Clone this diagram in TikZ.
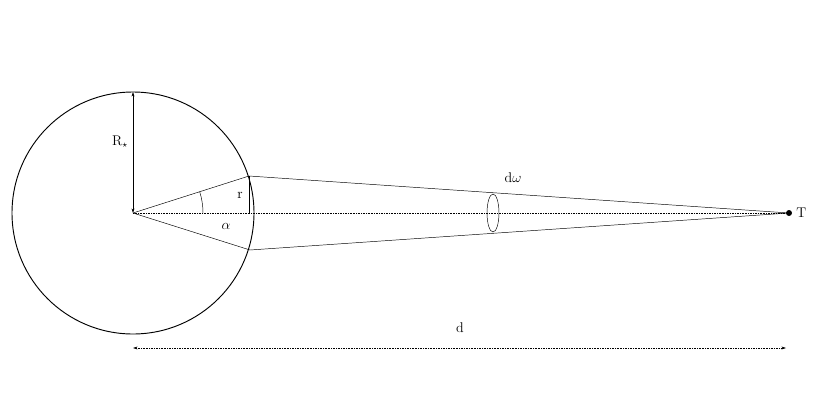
\documentclass[tikz,border=0pt]{standalone}
\usepackage{amssymb}
\usetikzlibrary{arrows.meta}
\tikzset{
  guide/.style={densely dotted, thin},
  dimline/.style={thin, {Stealth[length=4pt,width=2.5pt]}-{Stealth[length=4pt,width=2.5pt]}}
}
\begin{document}
\begin{tikzpicture}[x=0.03cm, y=-0.03cm, font=\large]
  \useasboundingbox (0, 0) rectangle (830, 415);
  % star and target
  \coordinate (O) at (133, 213);
  \coordinate (top) at (133, 92);
  \coordinate (P) at (249, 176);
  \coordinate (Q) at (250, 250);
  \coordinate (Pfoot) at (249, 213);
  \node [circle, fill, inner sep=1.8pt] (T) at (789, 213) {};
  \draw [thick] (O) circle [radius=121];
  % cone
  \draw (O) -- (P) -- (T.center);
  \draw (O) -- (Q) -- (T.center);
  \draw [guide] (O) -- (T);
  \draw (P) -- (Pfoot);
  \draw (493, 213) ellipse [x radius=6, y radius=19];
  % angle
  \draw (O) ++(0:70) arc [start angle=0, end angle=-17.7, radius=70];
  % labels
  \node at (240, 195) {r};
  \node at (226, 226) {$\alpha$};
  \node at (513, 178) {d$\omega$};
  \node [right] at (T.east) {T};
  \draw [dimline] (O) -- (top);
  \node at (120, 142) {R$_\star$};
  % distance
  \coordinate (dl) at (133, 348);
  \coordinate (dr) at (786, 348);
  \draw [dimline, guide] (dl) -- (dr);
  \node at (460, 328) {d};
\end{tikzpicture}
\end{document}
